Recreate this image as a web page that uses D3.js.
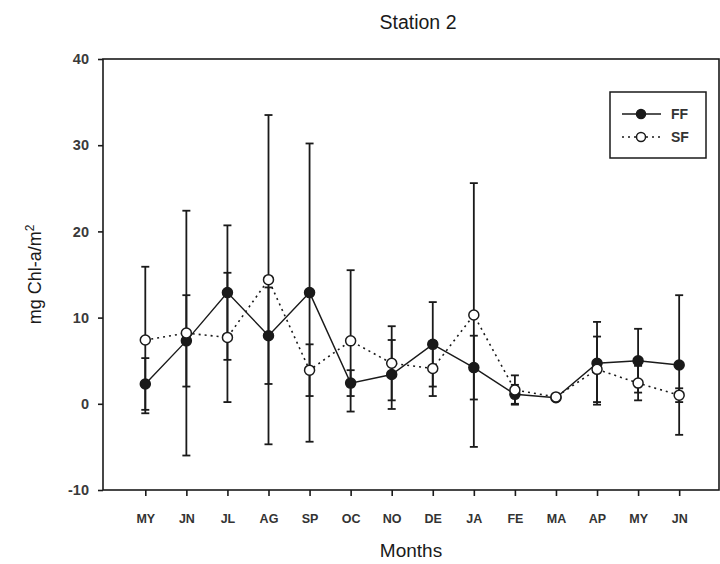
<!DOCTYPE html>
<html>
<head>
<meta charset="utf-8">
<script src="https://cdn.jsdelivr.net/npm/d3@7"></script>
<style>
  body { margin: 0; background: #fff; }
  svg { font-family: "Liberation Sans", Arial, sans-serif; }
</style>
</head>
<body>
<svg id="chart" width="720" height="564"></svg>
<script>
// month labels along x
const months = ['MY', 'JN', 'JL', 'AG', 'SP', 'OC', 'NO', 'DE', 'JA', 'FE', 'MA', 'AP', 'MY', 'JN'];
// FF series (filled circles) and its error
const ffValues = [2.3, 7.3, 12.9, 7.9, 12.9, 2.4, 3.4, 6.9, 4.2, 1.1, 0.7, 4.7, 5.0, 4.5];
const ffErrors = [3.0, 5.3, 7.8, 5.6, 17.3, 1.5, 4.0, 4.9, 3.7, 1.1, 0.3, 4.8, 3.7, 8.1];
// SF series (open circles) and its error
const sfValues = [7.4, 8.2, 7.7, 14.4, 3.9, 7.3, 4.7, 4.1, 10.3, 1.6, 0.8, 4.0, 2.4, 1.0];
const sfErrors = [8.5, 14.2, 7.5, 19.1, 3.0, 8.2, 4.3, 3.2, 15.3, 1.7, 0.3, 3.8, 2.0, 0.8];
const yTicks = [-10, 0, 10, 20, 30, 40];

const margin = { top: 59, right: 1, bottom: 74, left: 103 };
const W = 720, H = 564;
const w = W - margin.left - margin.right;
const h = H - margin.top - margin.bottom;
const ink = '#1a1a1a';

const svg = d3.select('#chart');
const g = svg.append('g').attr('transform', `translate(${margin.left},${margin.top})`);

const x = d3.scaleLinear().domain([-1.03, 13.97]).range([0, w]);
const y = d3.scaleLinear().domain([-10, 40]).range([h, 0]);

const series = [
    { name: 'FF', values: ffValues, errors: ffErrors, fill: ink, dash: null },
    { name: 'SF', values: sfValues, errors: sfErrors, fill: '#fff', dash: '2,4' }
];

// frame
g.append('rect')
    .attr('width', w).attr('height', h)
    .attr('fill', 'none').attr('stroke', ink).attr('stroke-width', 1.6);

// y axis
const yAxis = d3.axisLeft(y).tickValues(yTicks).tickFormat(d => String(d))
    .tickSize(5).tickPadding(9);
g.append('g').attr('class', 'y-axis').call(yAxis)
    .call(a => a.select('.domain').remove())
    .call(a => a.selectAll('line').attr('stroke', ink).attr('stroke-width', 1.6))
    .call(a => a.selectAll('text').attr('font-size', 14.5).attr('font-weight', 'bold')
        .attr('fill', '#3a3a3a'));

// x axis
const xAxis = d3.axisBottom(x).tickValues(d3.range(months.length))
    .tickFormat(i => months[i]).tickSize(6).tickPadding(18);
g.append('g').attr('class', 'x-axis').attr('transform', `translate(0,${h})`).call(xAxis)
    .call(a => a.select('.domain').remove())
    .call(a => a.selectAll('line').attr('stroke', ink).attr('stroke-width', 1.6))
    .call(a => a.selectAll('text').attr('font-size', 12.5).attr('font-weight', 'bold')
        .attr('fill', '#333'));

// error bars
series.forEach(s => {
    const eb = g.append('g').attr('class', 'err-' + s.name)
        .attr('stroke', ink).attr('stroke-width', 1.8);
    s.values.forEach((v, i) => {
        const cx = x(i);
        const hi = y(v + s.errors[i]), lo = y(v - s.errors[i]);
        eb.append('line').attr('x1', cx).attr('x2', cx).attr('y1', hi).attr('y2', lo);
        eb.append('line').attr('x1', cx - 4).attr('x2', cx + 4).attr('y1', hi).attr('y2', hi);
        eb.append('line').attr('x1', cx - 4).attr('x2', cx + 4).attr('y1', lo).attr('y2', lo);
    });
});

const line = d3.line().x((d, i) => x(i)).y(d => y(d));

// SF line first, FF on top
[series[1], series[0]].forEach(s => {
    g.append('path')
        .datum(s.values)
        .attr('d', line)
        .attr('fill', 'none')
        .attr('stroke', ink)
        .attr('stroke-width', s.dash ? 1.6 : 1.4)
        .attr('stroke-dasharray', s.dash);
});

[series[0], series[1]].forEach(s => {
    g.append('g').selectAll('circle')
        .data(s.values)
        .enter()
        .append('circle')
        .attr('cx', (d, i) => x(i))
        .attr('cy', d => y(d))
        .attr('r', 5)
        .attr('fill', s.fill)
        .attr('stroke', ink)
        .attr('stroke-width', 1.5);
});

// legend
const lg = g.append('g').attr('transform', `translate(${610 - margin.left},${92 - margin.top})`);
lg.append('rect').attr('width', 96).attr('height', 66)
    .attr('fill', '#fff').attr('stroke', ink).attr('stroke-width', 1.5);
series.forEach((s, k) => {
    const ly = 22 + k * 23;
    lg.append('line').attr('x1', 12).attr('x2', 51).attr('y1', ly).attr('y2', ly)
        .attr('stroke', ink).attr('stroke-width', 1.4).attr('stroke-dasharray', s.dash);
    lg.append('circle').attr('cx', 31).attr('cy', ly).attr('r', 4.5)
        .attr('fill', s.fill).attr('stroke', ink).attr('stroke-width', 1.5);
    lg.append('text').attr('x', 61).attr('y', ly).attr('dy', '0.35em')
        .attr('font-size', 14).attr('font-weight', 'bold').attr('fill', '#333').text(s.name);
});

// title and axis titles
svg.append('text').attr('x', 418).attr('y', 29).attr('text-anchor', 'middle')
    .attr('font-size', 19.5).attr('fill', ink).text('Station 2');
svg.append('text').attr('x', 411).attr('y', 557).attr('text-anchor', 'middle')
    .attr('font-size', 19).attr('fill', ink).text('Months');
const yl = svg.append('text')
    .attr('transform', `translate(41,${margin.top + h / 2}) rotate(-90)`)
    .attr('text-anchor', 'middle').attr('font-size', 18).attr('fill', ink);
yl.append('tspan').text('mg Chl-a/m');
yl.append('tspan').attr('font-size', 12).attr('dy', -7).text('2');
</script>
</body>
</html>
